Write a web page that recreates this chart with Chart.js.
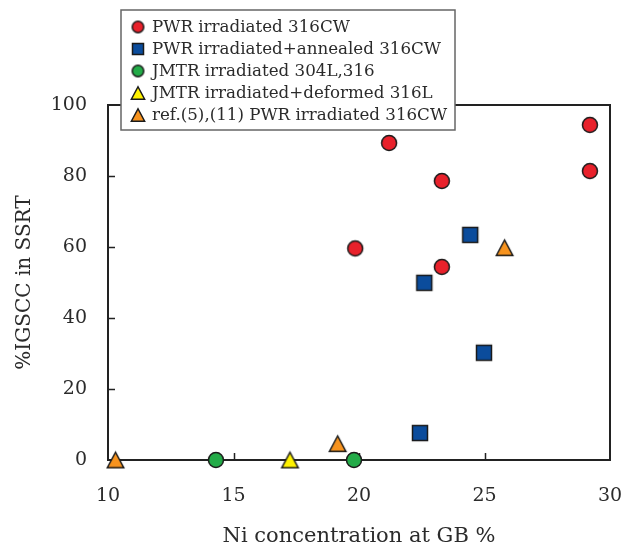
<!DOCTYPE html>
<html>
<head>
<meta charset="utf-8">
<script src="https://cdn.jsdelivr.net/npm/chart.js@4.4.1/dist/chart.umd.min.js"></script>
<style>
  html, body { margin: 0; padding: 0; background: #ffffff; }
  #wrap { width: 621px; height: 546px; }
</style>
</head>
<body>
<div id="wrap"><canvas id="c" width="621" height="546"></canvas></div>
<script>
// ---- data ----
const seriesLabels = [
  'PWR irradiated 316CW',
  'PWR irradiated+annealed 316CW',
  'JMTR irradiated 304L,316',
  'JMTR irradiated+deformed 316L',
  'ref.(5),(11) PWR irradiated 316CW'
];
const pwrX = [21.2, 23.3, 19.85, 23.3, 29.2, 29.2];
const pwrY = [89.3, 78.6, 59.6, 54.4, 94.4, 81.4];
const annealedX = [24.43, 22.6, 24.98, 22.43];
const annealedY = [63.4, 49.9, 30.2, 7.6];
const jmtrX = [14.3, 19.8];
const jmtrY = [0, 0];
const deformedX = [17.25];
const deformedY = [0];
const refX = [10.3, 19.15, 25.8];
const refY = [0, 4.6, 59.8];
const xTicks = [10, 15, 20, 25, 30];
const yTicks = [0, 20, 40, 60, 80, 100];

const toPts = (xs, ys) => xs.map((x, i) => ({ x: x, y: ys[i] }));

// ---- marker images ----
function makeMarker(shape, fill, size) {
  const c = document.createElement('canvas');
  c.width = size + 4; c.height = size + 4;
  const g = c.getContext('2d');
  const cx = c.width / 2, cy = c.height / 2, h = size / 2 - 0.75;
  g.fillStyle = fill; g.strokeStyle = '#1a1a1a'; g.lineWidth = 1.5; g.lineJoin = 'miter';
  g.beginPath();
  if (shape === 'circle') {
    g.arc(cx, cy, h, 0, Math.PI * 2);
  } else if (shape === 'square') {
    g.rect(cx - h, cy - h, 2 * h, 2 * h);
  } else {
    g.moveTo(cx, cy - h);
    g.lineTo(cx + h * 1.06, cy + h);
    g.lineTo(cx - h * 1.06, cy + h);
    g.closePath();
  }
  g.fill(); g.stroke();
  return c;
}
const colors = ['#e8212b', '#0b4c9c', '#23ab48', '#fff200', '#f7931e'];
const shapes = ['circle', 'square', 'circle', 'triangle', 'triangle'];
const markerBig = shapes.map((s, i) => makeMarker(s, colors[i], s === 'triangle' ? 17 : 16.5));
const markerSmall = shapes.map((s, i) => makeMarker(s, colors[i], s === 'triangle' ? 14 : (s === 'square' ? 12.5 : 13)));

const serif = '"DejaVu Serif", "Liberation Serif", serif';
const txt = '#2b2b2b';

// ---- plugin: frame, inner ticks, legend box ----
const framePlugin = {
  id: 'frame',
  beforeDatasetsDraw(chart) {
    const { ctx, chartArea: a, scales } = chart;
    ctx.save();
    ctx.strokeStyle = '#222';
    ctx.lineWidth = 2;
    ctx.strokeRect(a.left, a.top, a.right - a.left, a.bottom - a.top);
    ctx.lineWidth = 1.5;
    ctx.beginPath();
    xTicks.slice(1, -1).forEach(v => {
      const px = Math.round(scales.x.getPixelForValue(v)) + 0.5;
      ctx.moveTo(px, a.bottom); ctx.lineTo(px, a.bottom - 7);
    });
    yTicks.slice(1, -1).forEach(v => {
      const py = Math.round(scales.y.getPixelForValue(v)) + 0.5;
      ctx.moveTo(a.left, py); ctx.lineTo(a.left + 7, py);
    });
    ctx.stroke();
    ctx.restore();
  },
  afterDraw(chart) {
    const { ctx } = chart;
    ctx.save();
    const bx = 121, by = 10, bw = 334, bh = 120;
    ctx.fillStyle = '#ffffff';
    ctx.fillRect(bx, by, bw, bh);
    ctx.strokeStyle = '#666';
    ctx.lineWidth = 1.5;
    ctx.strokeRect(bx, by, bw, bh);
    ctx.font = '16.7px ' + serif;
    ctx.fillStyle = txt;
    ctx.textBaseline = 'middle';
    chart.data.datasets.forEach((ds, i) => {
      const y = 27 + i * 22;
      const m = markerSmall[i];
      ctx.drawImage(m, 138 - m.width / 2, y - m.height / 2);
      ctx.fillText(ds.label, 152, y + 1);
    });
    ctx.restore();
  }
};

const seriesX = [pwrX, annealedX, jmtrX, deformedX, refX];
const seriesY = [pwrY, annealedY, jmtrY, deformedY, refY];

new Chart(document.getElementById('c'), {
  type: 'scatter',
  data: {
    datasets: seriesLabels.map((label, i) => ({
      label: label,
      data: toPts(seriesX[i], seriesY[i]),
      pointStyle: markerBig[i],
      pointRadius: 9,
      pointHoverRadius: 9,
      clip: false
    }))
  },
  options: {
    responsive: false,
    animation: false,
    devicePixelRatio: 1,
    layout: { padding: { top: 105, right: 11, left: 0, bottom: 0 } },
    plugins: { legend: { display: false }, tooltip: { enabled: false } },
    scales: {
      x: {
        type: 'linear', min: 10, max: 30,
        afterBuildTicks: s => { s.ticks = xTicks.map(v => ({ value: v })); },
        grid: { display: false, drawTicks: false },
        border: { display: false },
        ticks: { padding: 25, font: { family: serif, size: 19 }, color: txt, maxRotation: 0 },
        title: { display: true, text: 'Ni concentration at GB %', font: { family: serif, size: 21 }, color: txt, padding: { top: 0, bottom: -3 } },
        afterFit: s => { s.height = 86; s.paddingLeft = 0; s.paddingRight = 0; }
      },
      y: {
        type: 'linear', min: 0, max: 100,
        afterBuildTicks: s => { s.ticks = yTicks.map(v => ({ value: v })); },
        grid: { display: false, drawTicks: false },
        border: { display: false },
        ticks: { padding: 21, font: { family: serif, size: 19 }, color: txt },
        title: { display: true, text: '%IGSCC in SSRT', font: { family: serif, size: 20 }, color: txt, padding: { top: 13, bottom: 0 } },
        afterFit: s => { s.width = 108; s.paddingTop = 0; s.paddingBottom = 0; }
      }
    }
  },
  plugins: [framePlugin]
});
</script>
</body>
</html>
